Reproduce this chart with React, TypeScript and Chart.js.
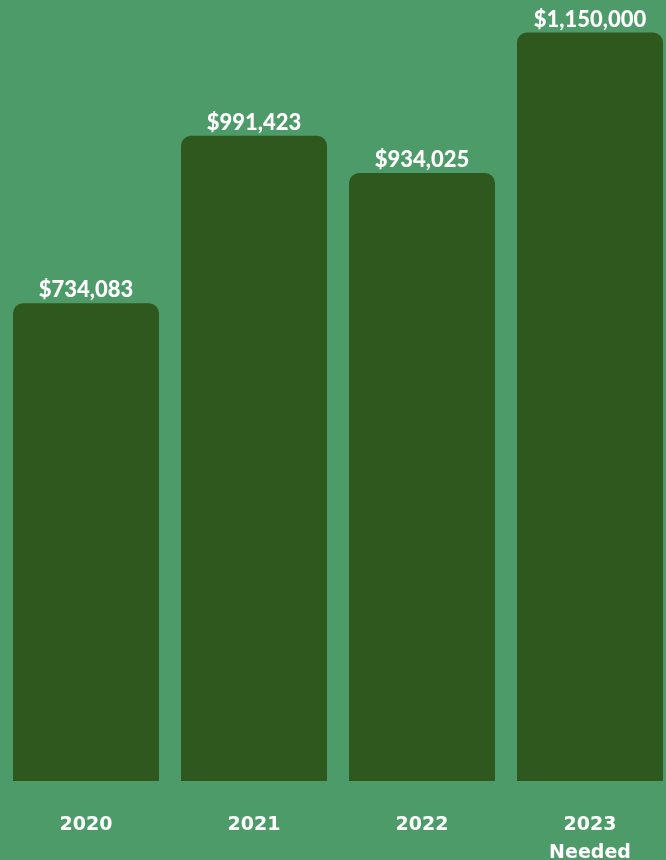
import React, { useEffect, useRef } from "react";
import { Chart, registerables } from "chart.js";

Chart.register(...registerables);

const categories: (string | string[])[] = ["2020", "2021", "2022", ["2023", "Needed"]];
const amounts: number[] = [734083, 991423, 934025, 1150000];
const valueLabels: string[] = ["$734,083", "$991,423", "$934,025", "$1,150,000"];
const yMax = 1200000;

const BG = "#4d9b68";
const BAR = "#2f581e";

const valueLabelPlugin = {
  id: "valueLabels",
  afterDatasetsDraw(chart: any) {
    const ctx = chart.ctx;
    const meta = chart.getDatasetMeta(0);
    ctx.save();
    ctx.fillStyle = "#ffffff";
    ctx.font = "900 22px Lato";
    ctx.textAlign = "center";
    ctx.textBaseline = "alphabetic";
    meta.data.forEach((bar: any, i: number) => {
      ctx.fillText(valueLabels[i], bar.x, bar.y - 6);
    });
    ctx.restore();
  },
};

export default function App() {
  const ref = useRef<HTMLCanvasElement | null>(null);

  useEffect(() => {
    document.body.style.margin = "0";
    document.body.style.background = BG;
    if (!ref.current) return;
    const chart = new Chart(ref.current, {
      type: "bar",
      data: {
        labels: categories,
        datasets: [
          {
            data: amounts,
            backgroundColor: BAR,
            borderRadius: { topLeft: 10, topRight: 10, bottomLeft: 0, bottomRight: 0 },
            borderSkipped: "bottom",
            categoryPercentage: 1,
            barPercentage: 0.869,
          },
        ],
      },
      options: {
        responsive: false,
        animation: false,
        layout: { padding: { left: 2, right: 0, top: 0, bottom: 0 } },
        plugins: {
          legend: { display: false },
          tooltip: { enabled: false },
        },
        scales: {
          x: {
            grid: { display: false },
            border: { display: false },
            ticks: {
              color: "#ffffff",
              padding: 22,
              maxRotation: 0,
              autoSkip: false,
              font: { family: "DejaVu Sans", weight: "bold", size: 19, lineHeight: 28 / 19 },
            },
          },
          y: {
            display: false,
            min: 0,
            max: yMax,
          },
        },
      },
      plugins: [valueLabelPlugin],
    });
    return () => chart.destroy();
  }, []);

  return (
    <div
      style={{
        position: "fixed",
        left: 0,
        top: 0,
        width: 666,
        height: 860,
        overflow: "hidden",
        background: BG,
      }}
    >
      <canvas ref={ref} width={674} height={889} style={{ display: "block" }} />
    </div>
  );
}
